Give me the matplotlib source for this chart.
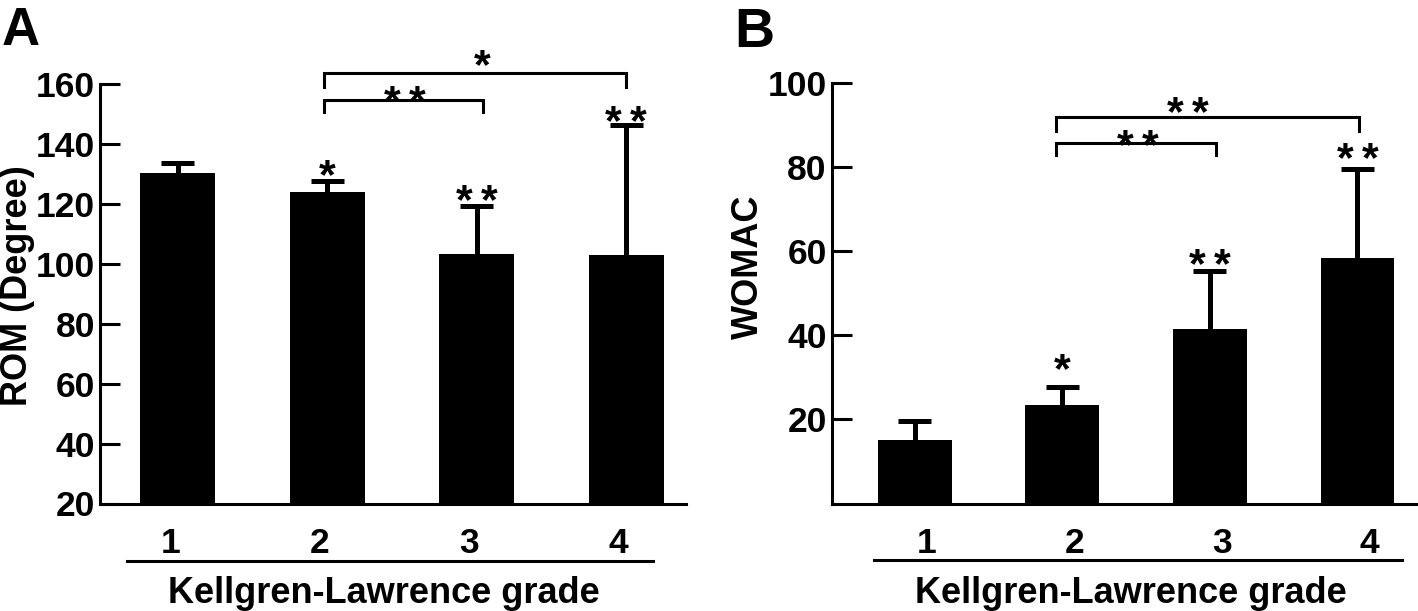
import matplotlib
matplotlib.use("Agg")
import matplotlib.pyplot as plt
from matplotlib.transforms import blended_transform_factory
import numpy as np

plt.rcParams['font.family'] = ['Liberation Sans', 'DejaVu Sans']
plt.rcParams['font.weight'] = 'bold'

grades = ["1", "2", "3", "4"]
rom_mean = [130.2, 123.8, 103.4, 103.0]
rom_sd = [3.4, 3.7, 15.8, 43.2]
womac_mean = [15.0, 23.5, 41.6, 58.3]
womac_sd = [4.7, 4.3, 13.7, 21.3]
rom_bar_sig = [0, 1, 2, 2]      # number of stars above each bar
womac_bar_sig = [0, 1, 2, 2]
rom_yticks = [20, 40, 60, 80, 100, 120, 140, 160]
womac_yticks = [20, 40, 60, 80, 100]
xlabel = "Kellgren-Lawrence grade"

W, H = 1418, 611
fig = plt.figure(figsize=(W / 100, H / 100), dpi=100)

LW = 2.2      # spine / bracket line width (pt)
ELW = 3.6     # error bar width (pt)
FS = 25.5     # tick label size
LFS = 26      # axis label size
SFS = 31      # star size
STAR_GAP = 25  # px between star centres


def stars(ax, n, x, y, off):
    for i in range(n):
        dx = (i - (n - 1) / 2) * STAR_GAP
        ax.annotate("*", xy=(x, y), xytext=(dx, off), textcoords='offset pixels',
                    ha='center', va='baseline', fontsize=SFS,
                    fontweight='bold', annotation_clip=False)


def draw_panel(ax, means, sds, sig, yticks, ylim, xlim, cap_half, star_offsets,
               tick_shift, ul, brackets):
    x = np.arange(len(means))
    base = ylim[0]
    ax.bar(x, np.array(means) - base, bottom=base, width=0.5, color='black',
           linewidth=0, zorder=2)
    tops = np.array(means) + np.array(sds)
    ax.vlines(x, means, tops, color='black', linewidth=ELW, zorder=1)
    ax.hlines(tops, x - cap_half, x + cap_half, color='black', linewidth=ELW,
              zorder=1)
    ax.set_xlim(*xlim)
    ax.set_ylim(*ylim)
    ax.set_yticks(yticks)
    ax.set_yticklabels([str(t) for t in yticks], fontsize=FS, fontweight='bold')
    ax.set_xticks(x + tick_shift)
    ax.set_xticklabels(grades, fontsize=FS, fontweight='bold')
    ax.tick_params(axis='y', direction='in', length=14.4, width=LW, pad=3.5)
    ax.tick_params(axis='x', length=0, pad=17)
    for s in ('top', 'right'):
        ax.spines[s].set_visible(False)
    for s in ('left', 'bottom'):
        ax.spines[s].set_linewidth(LW)
    for xi, t, n, off in zip(x, tops, sig, star_offsets):
        if n:
            stars(ax, n, xi, t, off)
    tr = blended_transform_factory(ax.transData, ax.transAxes)
    ax.plot([ul[0], ul[1]], [ul[2], ul[2]], transform=tr, color='black',
            linewidth=LW, clip_on=False)
    for (x0, x1, yl, yleg, n, sx, soff) in brackets:
        ax.plot([x0, x0, x1, x1], [yleg, yl, yl, yleg], color='black',
                linewidth=LW, clip_on=False, solid_joinstyle='miter')
        stars(ax, n, sx, yl, soff)


# Panel A
axA = fig.add_axes([100 / W, 1 - 503.5 / H, 586 / W, 419.5 / H])
draw_panel(axA, rom_mean, rom_sd, rom_bar_sig, rom_yticks, (20, 160),
           (-0.52, 3.40), 0.11, [0, -7, -7, -9], -0.05,
           (-0.34, 3.18, -0.136),
           [(0.98, 3.0, 163.6, 159.1, 1, 2.04, -5),
            (0.98, 2.04, 154.6, 150.8, 2, 1.52, -14)])
fig.text(18 / W, 1 - 286 / H, "ROM (Degree)", rotation=90, ha='center',
         va='center', fontsize=LFS, fontweight='bold')
fig.text(383.5 / W, 1 - 603 / H, xlabel, ha='center', va='baseline',
         fontsize=LFS, fontweight='bold')
fig.text(2 / W, 1 - 45 / H, "A", ha='left', va='baseline', fontsize=38,
         fontweight='bold')

# Panel B
axB = fig.add_axes([831.5 / W, 1 - 503.5 / H, (W - 831.5) / W, 420.5 / H])
draw_panel(axB, womac_mean, womac_sd, womac_bar_sig, womac_yticks, (0, 100),
           (-0.564, 3.41), 0.112, [0, 5, -6, -2], 0.08,
           (-0.276, 3.30, -0.135),
           [(0.96, 3.01, 91.9, 88.7, 2, 1.85, -8),
            (0.96, 2.04, 85.7, 82.9, 2, 1.51, -15)])
fig.text(748 / W, 1 - 267 / H, "WOMAC", rotation=90, ha='center',
         va='center', fontsize=LFS, fontweight='bold')
fig.text(1131 / W, 1 - 603 / H, xlabel, ha='center', va='baseline',
         fontsize=LFS, fontweight='bold')
fig.text(734 / W, 1 - 47 / H, "B", ha='left', va='baseline', fontsize=40,
         fontweight='bold')

fig.savefig("out.png", dpi=100)
